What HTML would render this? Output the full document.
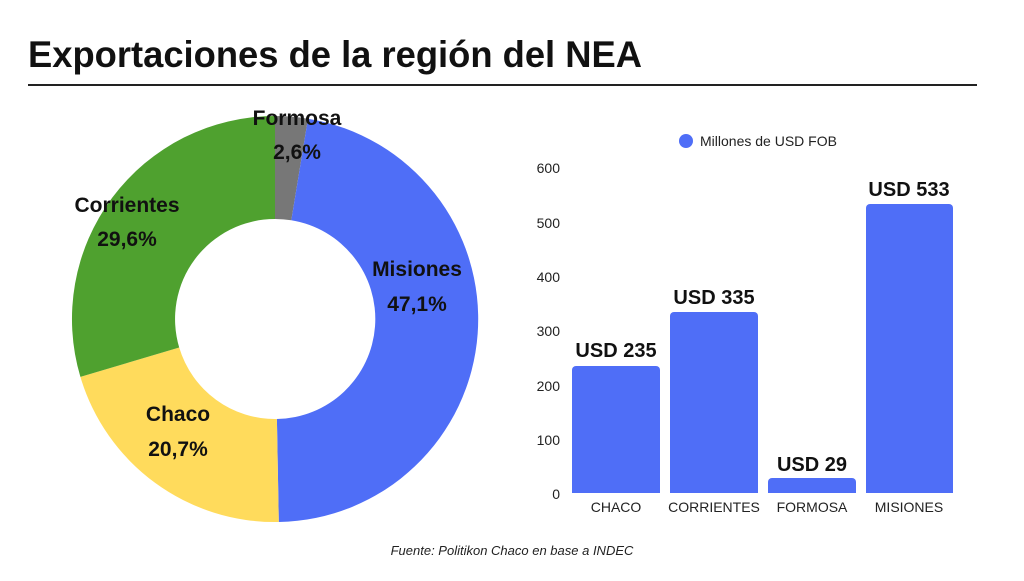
<!DOCTYPE html>
<html><head><meta charset="utf-8"><style>
body{margin:0;width:1024px;height:576px;background:#fff;overflow:hidden;font-family:"Liberation Sans",sans-serif}
</style></head><body>
<svg width="1024" height="576" viewBox="0 0 1024 576" xmlns="http://www.w3.org/2000/svg" font-family="Liberation Sans, sans-serif">
<text x="28" y="67" font-size="37" font-weight="bold" fill="#111" textLength="614" lengthAdjust="spacingAndGlyphs">Exportaciones de la región del NEA</text>
<rect x="28" y="84" width="949" height="2" fill="#222"/>
<!-- donut -->
<path d="M275 116 A203 203 0 0 1 308 118.7 L291.3 220.3 A100 100 0 0 0 275 219 Z" fill="#777"/>
<path d="M308 118.7 A203 203 0 0 1 278.8 522 L276.9 419 A100 100 0 0 0 291.3 220.3 Z" fill="#4f6ef7"/>
<path d="M278.8 522 A203 203 0 0 1 80.4 376.9 L179.2 347.5 A100 100 0 0 0 276.9 419 Z" fill="#ffdb5c"/>
<path d="M80.4 376.9 A203 203 0 0 1 275 116 L275 219 A100 100 0 0 0 179.2 347.5 Z" fill="#4fa12f"/>
<g font-size="21" font-weight="bold" fill="#111" text-anchor="middle">
<text x="297" y="125">Formosa</text><text x="297" y="159">2,6%</text>
<text x="127" y="212">Corrientes</text><text x="127" y="246">29,6%</text>
<text x="417" y="276">Misiones</text><text x="417" y="311">47,1%</text>
<text x="178" y="421">Chaco</text><text x="178" y="456">20,7%</text>
</g>
<!-- bar chart -->
<circle cx="686" cy="141" r="7" fill="#4f6ef7"/>
<text x="700" y="146" font-size="14" fill="#222">Millones de USD FOB</text>
<g font-size="14" fill="#222" text-anchor="end">
<text x="560" y="173">600</text><text x="560" y="228">500</text><text x="560" y="282">400</text>
<text x="560" y="336">300</text><text x="560" y="391">200</text><text x="560" y="445">100</text>
<text x="560" y="499">0</text>
</g>
<g fill="#4f6ef7">
<path d="M572 493 V370 a4 4 0 0 1 4 -4 H656 a4 4 0 0 1 4 4 V493 Z"/>
<path d="M670 493 V316 a4 4 0 0 1 4 -4 H754 a4 4 0 0 1 4 4 V493 Z"/>
<path d="M768 493 V482 a4 4 0 0 1 4 -4 H852 a4 4 0 0 1 4 4 V493 Z"/>
<path d="M866 493 V208 a4 4 0 0 1 4 -4 H949 a4 4 0 0 1 4 4 V493 Z"/>
</g>
<g font-size="20" font-weight="bold" fill="#111" text-anchor="middle">
<text x="616" y="357">USD 235</text><text x="714" y="304">USD 335</text>
<text x="812" y="471">USD 29</text><text x="909" y="196">USD 533</text>
</g>
<g font-size="14" fill="#222" text-anchor="middle">
<text x="616" y="512">CHACO</text><text x="714" y="512">CORRIENTES</text>
<text x="812" y="512">FORMOSA</text><text x="909" y="512">MISIONES</text>
</g>
<text x="512" y="555" font-size="13" font-style="italic" fill="#222" text-anchor="middle">Fuente: Politikon Chaco en base a INDEC</text>
</svg>
</body></html>
